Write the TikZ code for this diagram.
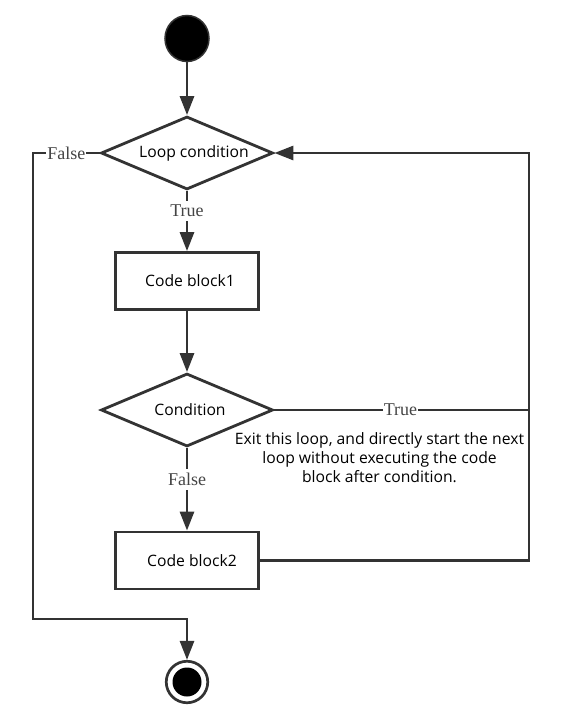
\documentclass[tikz,border=0pt]{standalone}
\usepackage{fontspec}
\setmainfont{Open Sans}
\newfontfamily\lblfont{Liberation Serif}
\usetikzlibrary{shapes.geometric,arrows.meta}
\definecolor{linec}{HTML}{333333}
\definecolor{lblc}{HTML}{444444}
\begin{document}
\begin{tikzpicture}[x=1pt,y=-1pt,
  line/.style={draw=linec, line width=2.8pt},
  arr/.style={line, -{Triangle[length=19pt,width=14pt]}},
  txt/.style={font=\fontsize{15.7}{19}\selectfont, text=black},
  decision/.style={diamond, draw=linec, line width=2.8pt, minimum width=172pt,
    minimum height=73pt, inner sep=0pt, aspect=2.36},
  block/.style={rectangle, draw=linec, line width=2.8pt, minimum width=143pt,
    minimum height=57pt, inner sep=0pt},
  lbl/.style={font=\lblfont\fontsize{18}{20}\selectfont, text=lblc, fill=white,
    inner sep=4pt},
  hlbl/.style={lbl, inner xsep=1pt},
]
\useasboundingbox (0,0) rectangle (563,718);

% start and end states
\node[ellipse, fill=black, draw=linec, line width=1.5pt, minimum width=44pt,
  minimum height=46pt, inner sep=0pt] (start) at (187,38.5) {};
\node[circle, draw=linec, line width=2.7pt, minimum size=41.5pt, inner sep=0pt]
  (end) at (187,682) {};
\fill[black] (end.center) circle (14.5);

% decisions and blocks
\node[decision, label={[txt,xshift=7pt]center:Loop condition}] (loop) at (187,153) {};
\node[block, label={[txt,xshift=3pt]center:Code block1}] (cb1) at (187,281) {};
\node[decision, label={[txt,xshift=3pt]center:Condition}] (cond) at (187,410) {};
\node[block, label={[txt,xshift=5pt]center:Code block2}] (cb2) at (187,560.5) {};

% explanation of the continue branch
\node[txt, align=center] (note) at (379.5,458)
  {Exit this loop, and directly start the next\\loop without executing the code\\block after condition.};

% routing points
\coordinate (rtop) at (529,153);
\coordinate (ltop) at (33,153);
\coordinate (bend) at (187,619);

% connectors
\draw[arr] (start) -- (loop.north);
\draw[arr] (loop.south) -- node[lbl, pos=0.33] {True} (cb1.north);
\draw[arr] (cb1.south) -- (cond.north);
\draw[arr] (cond.south) -- node[lbl, pos=0.38] {False} (cb2.north);
\draw[line] (cond.east) -- node[hlbl, pos=0.495] {True} (cond.east -| rtop);
\draw[arr] (cb2.east) -| (rtop) -- (loop.east);
\draw[arr] (loop.west) -- node[hlbl, pos=0.5] {False} (ltop) |- (bend) -- (end.north);
\end{tikzpicture}
\end{document}
